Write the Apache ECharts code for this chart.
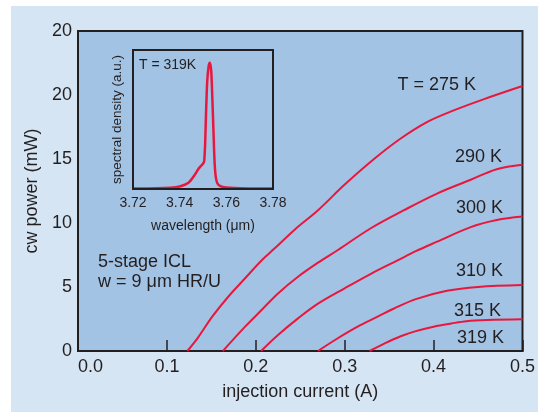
<!DOCTYPE html>
<html>
<head>
<meta charset="utf-8">
<script src="https://cdn.jsdelivr.net/npm/echarts/dist/echarts.min.js"></script>
<style>
  body { margin: 0; background: #fff; }
  .panel { position: absolute; left: 11px; top: 6px; width: 527px; height: 406px; background: #d5e5f4; }
  #chart { position: absolute; left: 0; top: 0; width: 538px; height: 412px; }
</style>
</head>
<body>
<div class="panel"></div>
<div id="chart"></div>
<script>
// cw power (mW) vs injection current (A), one curve per temperature
const i275 = [0.123, 0.135, 0.151, 0.169, 0.188, 0.207, 0.221, 0.244, 0.27, 0.30, 0.333, 0.363, 0.393, 0.419, 0.456, 0.5];
const p275 = [0, 1.05, 2.68, 4.24, 5.68, 7.11, 8.0, 9.5, 11.0, 13.0, 15.0, 16.6, 17.9, 18.7, 19.66, 20.7];
const i290 = [0.163, 0.188, 0.2065, 0.225, 0.2475, 0.27, 0.2924, 0.3294, 0.3667, 0.4039, 0.4411, 0.471, 0.5];
const p290 = [0, 1.9, 3.2, 4.5, 5.8, 6.9, 7.89, 9.59, 11.0, 12.3, 13.36, 14.2, 14.55];
const i300 = [0.206, 0.225, 0.2475, 0.27, 0.30, 0.33, 0.36, 0.38, 0.404, 0.441, 0.471, 0.5];
const p300 = [0, 1.25, 2.55, 3.7, 4.9, 6.05, 7.1, 7.8, 8.54, 9.66, 10.23, 10.5];
const i310 = [0.27, 0.29, 0.3145, 0.333, 0.355, 0.38, 0.415, 0.45, 0.5];
const p310 = [0, 0.9, 1.9, 2.55, 3.3, 4.05, 4.7, 5.0, 5.15];
const i315 = [0.328, 0.345, 0.363, 0.38, 0.4, 0.42, 0.437, 0.46, 0.5];
const p315 = [0, 0.6, 1.15, 1.55, 1.9, 2.15, 2.33, 2.42, 2.48];

// inset spectrum at T = 319K
const wavelength = [3.72, 3.73, 3.736, 3.74, 3.7438, 3.7464, 3.7481, 3.749, 3.75, 3.7505, 3.7509, 3.7513, 3.7518, 3.7524, 3.7529, 3.7535, 3.754, 3.7545, 3.755, 3.7556, 3.7565, 3.7585, 3.766, 3.78];
const density = [0.003, 0.005, 0.01, 0.02, 0.05, 0.11, 0.16, 0.18, 0.2, 0.22, 0.35, 0.6, 0.85, 0.97, 1.0, 0.94, 0.72, 0.45, 0.2, 0.08, 0.035, 0.015, 0.005, 0.003];

const yTickLabels = ['0', '5', '10', '15', '20', '20'];
const insetTicks = ['3.72', '3.74', '3.76', '3.78'];

const ink = '#231f20';
const red = '#e8173d';
const font = 'Liberation Sans';

function pairs(xs, ys) {
  return xs.map((x, k) => [x, ys[k]]);
}

function curve(xs, ys) {
  return {
    type: 'line', xAxisIndex: 0, yAxisIndex: 0,
    data: pairs(xs, ys), smooth: 0.35, showSymbol: false,
    lineStyle: { color: red, width: 2 }
  };
}

function note(text, x, y, align, size) {
  return {
    type: 'text', z: 50,
    style: {
      text: text, x: x, y: y, fill: ink,
      font: size + 'px "' + font + '"',
      textAlign: align, textVerticalAlign: 'middle'
    }
  };
}

const chart = echarts.init(document.getElementById('chart'));
chart.setOption({
  animation: false,
  textStyle: { fontFamily: font, color: ink },
  grid: [
    { left: 78, right: 13, top: 31, bottom: 61, show: true, backgroundColor: '#a3c3e4', borderColor: ink, borderWidth: 2 },
    { left: 133, top: 50, width: 140, height: 139, show: true, backgroundColor: 'transparent', borderColor: ink, borderWidth: 2, z: 5 }
  ],
  xAxis: [
    {
      gridIndex: 0, type: 'value', min: 0, max: 0.5, interval: 0.1,
      name: 'injection current (A)', nameLocation: 'middle', nameGap: 32,
      nameTextStyle: { fontSize: 18, color: ink },
      axisLine: { lineStyle: { color: ink, width: 2 } },
      axisTick: { inside: true, length: 11, lineStyle: { color: ink, width: 1.5 } },
      axisLabel: { fontSize: 18, color: ink, margin: 7, alignMinLabel: 'left', formatter: v => v.toFixed(1) },
      splitLine: { show: false }
    },
    {
      gridIndex: 1, type: 'value', min: 3.72, max: 3.78, interval: 0.02,
      name: 'wavelength (\u03bcm)', nameLocation: 'middle', nameGap: 30,
      nameTextStyle: { fontSize: 14, color: ink },
      axisLine: { lineStyle: { color: ink, width: 2 } },
      axisTick: { show: false },
      axisLabel: { fontSize: 14, color: ink, margin: 7, formatter: (v, k) => insetTicks[k] },
      splitLine: { show: false }
    }
  ],
  yAxis: [
    {
      gridIndex: 0, type: 'value', min: 0, max: 25, interval: 5,
      name: 'cw power (mW)', nameLocation: 'middle', nameGap: 36,
      nameTextStyle: { fontSize: 18, color: ink },
      axisLine: { show: true, lineStyle: { color: ink, width: 2 } },
      axisTick: { show: false },
      axisLabel: { fontSize: 18, color: ink, margin: 6, formatter: (v, k) => yTickLabels[k] },
      splitLine: { show: false }
    },
    {
      gridIndex: 1, type: 'value', min: 0, max: 1.1,
      name: 'spectral density (a.u.)', nameLocation: 'middle', nameGap: 9,
      nameTextStyle: { fontSize: 13.5, color: ink },
      axisLine: { show: true, lineStyle: { color: ink, width: 2 } },
      axisTick: { show: false },
      axisLabel: { show: false },
      splitLine: { show: false }
    }
  ],
  series: [
    curve(i275, p275),
    curve(i290, p290),
    curve(i300, p300),
    curve(i310, p310),
    curve(i315, p315),
    {
      type: 'line', xAxisIndex: 1, yAxisIndex: 1,
      data: pairs(wavelength, density), smooth: 0.25, showSymbol: false,
      lineStyle: { color: red, width: 2.5 }
    }
  ],
  graphic: [
    note('T = 275 K', 476, 85, 'right', 18),
    note('290 K', 502, 157, 'right', 18),
    note('300 K', 503, 208, 'right', 18),
    note('310 K', 503, 271, 'right', 18),
    note('315 K', 501, 311, 'right', 18),
    note('319 K', 504, 338, 'right', 18),
    note('5-stage ICL', 98, 262, 'left', 18),
    note('w = 9 \u03bcm HR/U', 98, 282, 'left', 18),
    note('T = 319K', 139, 65, 'left', 14)
  ]
});
</script>
</body>
</html>
